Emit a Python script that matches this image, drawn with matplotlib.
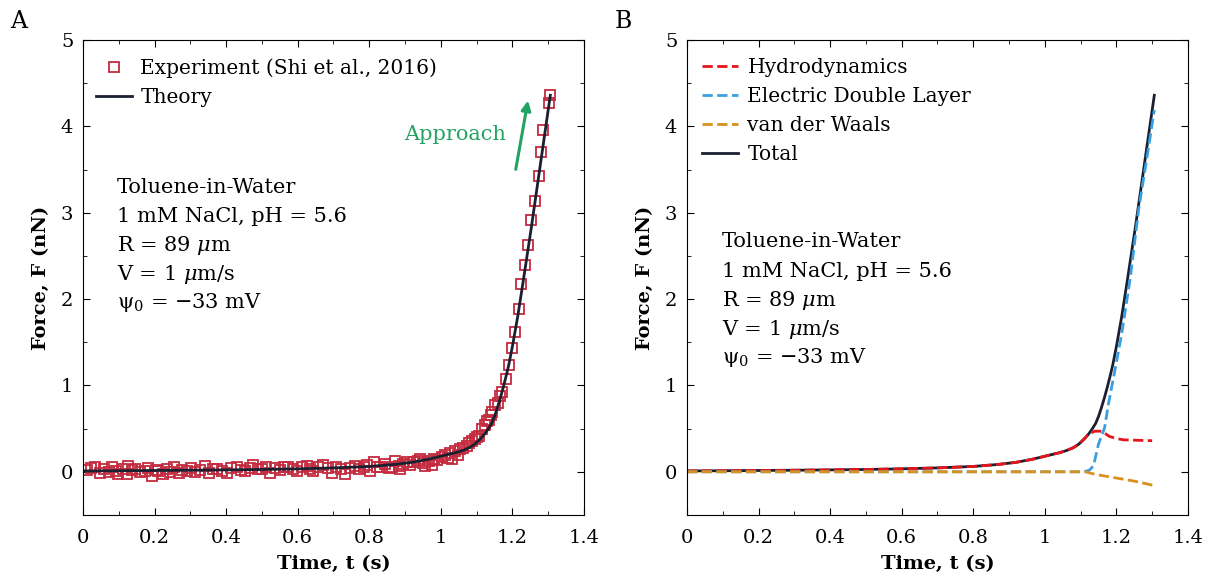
import matplotlib
matplotlib.use("Agg")
import matplotlib.pyplot as plt
from matplotlib.ticker import MultipleLocator

plt.rcParams['font.family'] = ['DejaVu Serif']
plt.rcParams['mathtext.fontset'] = 'dejavuserif'

# experiment (Shi et al., 2016)
t_exp = [0.010, 0.022, 0.034, 0.048, 0.060, 0.072, 0.080, 0.092, 0.099, 0.112,
         0.122, 0.127, 0.138, 0.145, 0.158, 0.173, 0.182, 0.192, 0.203, 0.211,
         0.224, 0.234, 0.244, 0.253, 0.267, 0.278, 0.290, 0.302, 0.313, 0.326,
         0.341, 0.351, 0.362, 0.374, 0.388, 0.402, 0.415, 0.430, 0.441, 0.453,
         0.466, 0.476, 0.488, 0.499, 0.511, 0.523, 0.537, 0.551, 0.562, 0.574,
         0.586, 0.598, 0.612, 0.626, 0.635, 0.644, 0.658, 0.672, 0.684, 0.695,
         0.708, 0.720,
         0.733, 0.745, 0.761, 0.772, 0.784, 0.795, 0.803, 0.812, 0.822, 0.831,
         0.845, 0.855, 0.863, 0.873, 0.882, 0.887, 0.895, 0.905, 0.915, 0.924,
         0.935, 0.943, 0.950, 0.957, 0.967, 0.975, 0.980, 0.990, 1.003, 1.012,
         1.020, 1.027, 1.031, 1.040, 1.047, 1.055, 1.063, 1.073, 1.080, 1.087,
         1.095, 1.101, 1.106,
         1.115, 1.124, 1.129, 1.134, 1.139, 1.144, 1.152, 1.159, 1.166, 1.172,
         1.181, 1.190, 1.199, 1.207, 1.219, 1.225, 1.235, 1.245, 1.252, 1.262,
         1.274, 1.281, 1.285, 1.301, 1.304]
F_exp = [0.02, 0.04, 0.05, -0.01, 0.03, 0.00, 0.05, 0.01, -0.02, 0.03,
         -0.02, 0.07, 0.02, 0.03, 0.00, 0.01, 0.04, -0.05, 0.02, 0.01,
         -0.02, 0.03, 0.00, 0.05, -0.01, 0.02, 0.01, 0.04, 0.00, 0.02,
         0.07, -0.01, 0.03, 0.03, 0.01, -0.01, 0.04, 0.05, 0.02, 0.01,
         0.04, 0.08, 0.03, 0.03, 0.05, -0.01, 0.04, 0.02, 0.06, 0.05,
         0.03, 0.01, 0.05, 0.07, 0.03, 0.01, 0.05, 0.08, 0.04, -0.01,
         0.06, 0.03,
         -0.03, 0.04, 0.07, 0.03, 0.05, 0.08, 0.01, 0.11, 0.06, 0.05,
         0.09, 0.04, 0.05, 0.13, 0.07, 0.03, 0.09, 0.11, 0.08, 0.11,
         0.13, 0.15, 0.10, 0.07, 0.12, 0.08, 0.15, 0.14, 0.17, 0.19,
         0.16, 0.22, 0.15, 0.24, 0.19, 0.26, 0.28, 0.30, 0.33, 0.36,
         0.38, 0.40, 0.42,
         0.50, 0.54, 0.59, 0.60, 0.66, 0.69, 0.77, 0.80, 0.88, 0.92,
         1.08, 1.24, 1.43, 1.62, 1.89, 2.17, 2.40, 2.63, 2.91, 3.14,
         3.43, 3.70, 3.96, 4.27, 4.36]

# theory / total force
t_tot = [0.0, 0.1, 0.2, 0.3, 0.4, 0.5, 0.6, 0.7, 0.8, 0.87, 0.92, 0.965, 1.01,
         1.04, 1.06, 1.08, 1.095, 1.11, 1.123, 1.133, 1.142, 1.15, 1.158,
         1.166, 1.174, 1.182, 1.19, 1.2, 1.215, 1.23, 1.253, 1.28, 1.306]
F_tot = [0.01, 0.012, 0.015, 0.018, 0.022, 0.027, 0.034, 0.045, 0.062, 0.085,
         0.11, 0.145, 0.19, 0.22, 0.245, 0.28, 0.32, 0.38, 0.44, 0.50, 0.56,
         0.64, 0.74, 0.85, 0.97, 1.10, 1.24, 1.45, 1.80, 2.20, 2.83, 3.61, 4.36]

t_hyd = [0.0, 0.1, 0.2, 0.3, 0.4, 0.5, 0.6, 0.7, 0.8, 0.87, 0.92, 0.965, 1.01,
         1.04, 1.06, 1.08, 1.095, 1.11, 1.123, 1.14, 1.16, 1.18, 1.2, 1.22,
         1.26, 1.3]
F_hyd = [0.01, 0.012, 0.015, 0.018, 0.022, 0.027, 0.034, 0.045, 0.062, 0.085,
         0.11, 0.145, 0.19, 0.22, 0.245, 0.28, 0.32, 0.38, 0.44, 0.47, 0.47,
         0.41, 0.385, 0.37, 0.365, 0.36]

t_edl = [0.0, 1.11, 1.125, 1.136, 1.15, 1.167, 1.178, 1.192, 1.215, 1.239,
         1.262, 1.29, 1.306]
F_edl = [0.0, 0.0, 0.02, 0.07, 0.32, 0.51, 0.79, 1.09, 1.60, 2.25, 3.03,
         3.76, 4.19]

t_vdw = [0.0, 1.113, 1.141, 1.197, 1.253, 1.306]
F_vdw = [0.0, 0.0, -0.03, -0.07, -0.11, -0.16]

info = ["Toluene-in-Water", "1 mM NaCl, pH = 5.6", r"R = 89 $\mu$m",
        r"V = 1 $\mu$m/s", r"ψ$_0$ = −33 mV"]
infoA_y = [3.32, 2.98, 2.66, 2.32, 1.99]
infoB_y = [2.69, 2.34, 2.02, 1.68, 1.36]

c_exp = '#c42b3f'
c_tot = '#1b2030'
c_hyd = '#e8141c'
c_edl = '#3a9fe0'
c_vdw = '#da901c'
c_arrow = '#22a361'

fig = plt.figure(figsize=(12.08, 5.77), dpi=100)
axA = fig.add_axes([0.0687, 0.1075, 0.4147, 0.8232])
axB = fig.add_axes([0.5687, 0.1075, 0.4147, 0.8232])

for ax in [axA, axB]:
    ax.set_xlim(0, 1.4)
    ax.set_ylim(-0.5, 5)
    ax.xaxis.set_major_locator(MultipleLocator(0.2))
    ax.xaxis.set_minor_locator(MultipleLocator(0.1))
    ax.yaxis.set_major_locator(MultipleLocator(1))
    ax.yaxis.set_minor_locator(MultipleLocator(0.5))
    ax.tick_params(which='both', direction='in', top=True, right=True,
                   labelsize=14)
    ax.tick_params(axis='x', pad=10)
    ax.tick_params(axis='y', pad=7)
    ax.tick_params(which='major', length=5)
    ax.tick_params(which='minor', length=3)
    ax.set_xticks([0, 0.2, 0.4, 0.6, 0.8, 1, 1.2, 1.4])
    ax.set_xticklabels(['0', '0.2', '0.4', '0.6', '0.8', '1', '1.2', '1.4'])
    ax.set_xlabel("Time, t (s)", fontsize=14, fontweight='bold', labelpad=6)
    ax.set_ylabel("Force, F (nN)", fontsize=14, fontweight='bold', labelpad=8)

# panel A
axA.plot(t_exp, F_exp, 's', ms=6.5, mfc='none', mec=c_exp, mew=1.3,
         label="Experiment (Shi et al., 2016)")
axA.plot(t_tot, F_tot, '-', color=c_tot, lw=2, label="Theory")
axA.legend(loc='upper left', bbox_to_anchor=(-0.01, 1.0), frameon=False,
           fontsize=14.5, handlelength=1.8, borderaxespad=0.5,
           labelspacing=0.5, handletextpad=0.4)
for y, s in zip(infoA_y, info):
    axA.text(0.095, y, s, fontsize=15, va='center_baseline')
axA.annotate("", xy=(1.245, 4.33), xytext=(1.208, 3.47),
             arrowprops=dict(arrowstyle='-|>', color=c_arrow, lw=2.2,
                             mutation_scale=14))
axA.text(1.183, 3.9, "Approach", color=c_arrow, fontsize=15,
         ha='right', va='center')

# panel B
l_tot, = axB.plot(t_tot, F_tot, '-', color=c_tot, lw=2, label="Total")
l_hyd, = axB.plot(t_hyd, F_hyd, '--', color=c_hyd, lw=2, label="Hydrodynamics")
l_edl, = axB.plot(t_edl, F_edl, '--', color=c_edl, lw=2,
                  label="Electric Double Layer")
l_vdw, = axB.plot(t_vdw, F_vdw, '--', color=c_vdw, lw=2, label="van der Waals")
axB.legend(handles=[l_hyd, l_edl, l_vdw, l_tot], loc='upper left',
           bbox_to_anchor=(-0.006, 1.0), frameon=False, fontsize=14.5,
           handlelength=1.8, borderaxespad=0.5, labelspacing=0.5,
           handletextpad=0.45)
for y, s in zip(infoB_y, info):
    axB.text(0.0975, y, s, fontsize=15, va='center_baseline')

fig.text(0.008, 0.962, "A", fontsize=17, va='center', ha='left')
fig.text(0.509, 0.962, "B", fontsize=17, va='center', ha='left')

fig.savefig("out.png", dpi=100)
